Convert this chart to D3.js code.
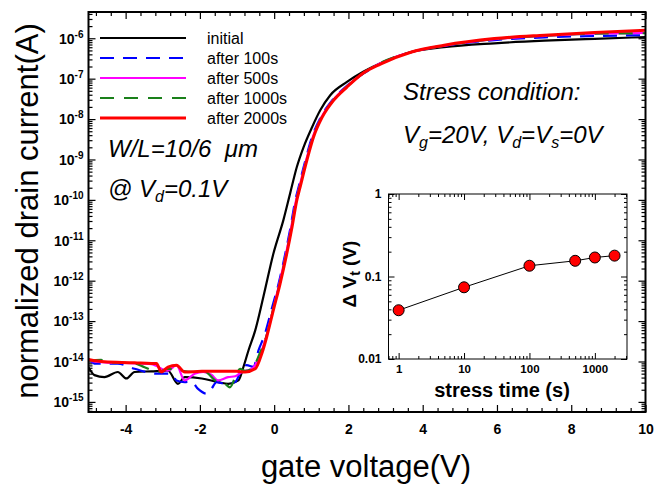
<!DOCTYPE html>
<html>
<head>
<meta charset="utf-8">
<script src="https://cdn.jsdelivr.net/npm/d3@7"></script>
<style>
  body { margin: 0; background: #fff; }
  svg { font-family: "Liberation Sans", Arial, sans-serif; }
</style>
</head>
<body>
<div id="chart"></div>
<script>
// gate voltage (V) / normalized drain current (A) for each stress step
const initialV = [-5, -4.84, -4.57, -4.21, -3.98, -3.76, -3.31, -2.86, -2.59, -2.41, -1.95, -1.51, -1.24, -0.96, -0.83, -0.69, -0.51, -0.29, -0.02, 0.25, 0.43, 0.61, 0.79, 1.02, 1.24, 1.51, 1.96, 2.41, 2.86, 3.68, 4.57, 5.93, 7.28, 8.63, 10];
const initialI = [7.2e-15, 4.6e-15, 4.1e-15, 5.5e-15, 3.8e-15, 5.5e-15, 5.7e-15, 5.9e-15, 2.8e-15, 4.1e-15, 3.8e-15, 3.1e-15, 2.8e-15, 3.4e-15, 7.2e-15, 1.9e-14, 5.9e-14, 4.0e-13, 4.7e-12, 3.2e-11, 1.45e-10, 6.5e-10, 2.0e-9, 6.3e-9, 1.65e-8, 3.9e-8, 8.3e-8, 1.5e-7, 2.4e-7, 4.5e-7, 6.0e-7, 7.5e-7, 8.7e-7, 9.7e-7, 1.07e-6];

const s100V = [-5, -4.84, -4.21, -3.76, -3.17, -2.76, -2.63, -2.41, -2.23, -2.05, -1.82, -1.69, -1.55, -1.32, -1.05, -0.87, -0.74, -0.56, -0.42, -0.26, -0.06, 0.12, 0.3, 0.44, 0.57, 0.66, 0.84, 1.02, 1.25, 1.56, 1.92, 2.41, 2.86, 3.68, 4.58, 5.93, 7.28, 8.63, 10];
const s100I = [1.17e-14, 8.9e-15, 8.9e-15, 6.6e-15, 5.0e-15, 5.0e-15, 3.4e-15, 3.1e-15, 3.2e-15, 2.1e-15, 1.6e-15, 2.1e-15, 3.1e-15, 2.8e-15, 3.1e-15, 6.6e-15, 8.1e-15, 7.4e-15, 1.9e-14, 4.5e-14, 2.1e-13, 8.5e-13, 4.7e-12, 2.1e-11, 9.8e-11, 2.1e-10, 9.5e-10, 3.6e-9, 1.1e-8, 2.9e-8, 6.2e-8, 1.35e-7, 2.35e-7, 4.5e-7, 6.5e-7, 9.0e-7, 1.05e-6, 1.14e-6, 1.19e-6];

const s500V = [-5, -4.57, -3.76, -3.31, -2.86, -2.63, -2.41, -2.14, -1.91, -1.69, -1.51, -1.24, -1.05, -0.87, -0.6, -0.38, -0.22, -0.03, 0.14, 0.32, 0.46, 0.59, 0.68, 0.86, 1.04, 1.27, 1.58, 1.94, 2.41, 2.86, 3.68, 4.58, 5.93, 7.28, 8.63, 10];
const s500I = [1.05e-14, 9.5e-15, 9.0e-15, 8.6e-15, 5.9e-15, 8.1e-15, 3.4e-15, 5.0e-15, 5.5e-15, 4.7e-15, 3.4e-15, 4.1e-15, 4.3e-15, 5.5e-15, 6.6e-15, 1.45e-14, 3.9e-14, 1.9e-13, 8.5e-13, 4.7e-12, 2.1e-11, 9.8e-11, 2.1e-10, 9.5e-10, 3.6e-9, 1.1e-8, 2.9e-8, 6.2e-8, 1.38e-7, 2.4e-7, 4.55e-7, 6.6e-7, 9.5e-7, 1.15e-6, 1.3e-6, 1.35e-6];

const s1000V = [-5, -4.66, -4.57, -3.76, -3.49, -3.13, -2.86, -2.5, -2.14, -1.86, -1.59, -1.32, -1.19, -1.01, -0.92, -0.78, -0.6, -0.4, -0.22, -0.03, 0.15, 0.33, 0.47, 0.6, 0.69, 0.87, 1.05, 1.28, 1.59, 1.95, 2.41, 2.86, 3.68, 4.58, 5.93, 7.28, 8.63, 10];
const s1000I = [1.05e-14, 1.1e-14, 9.8e-15, 8.9e-15, 7.2e-15, 5.5e-15, 6.6e-15, 5.9e-15, 5.5e-15, 5.5e-15, 3.4e-15, 2.8e-15, 2.3e-15, 5.0e-15, 6.6e-15, 5.9e-15, 6.6e-15, 1.5e-14, 3.9e-14, 1.9e-13, 8.5e-13, 4.7e-12, 2.1e-11, 9.8e-11, 2.1e-10, 9.5e-10, 3.6e-9, 1.1e-8, 2.9e-8, 6.2e-8, 1.38e-7, 2.45e-7, 4.55e-7, 6.6e-7, 9.6e-7, 1.16e-6, 1.3e-6, 1.33e-6];

const s2000V = [-5, -4.57, -3.76, -3.31, -3.17, -3.04, -2.86, -2.63, -2.41, -1.95, -1.51, -1.01, -0.78, -0.51, -0.33, -0.2, -0.02, 0.16, 0.34, 0.48, 0.61, 0.7, 0.88, 1.06, 1.29, 1.6, 1.96, 2.41, 2.86, 3.68, 4.58, 5.93, 7.28, 8.63, 10];
const s2000I = [1.12e-14, 9.8e-15, 9.3e-15, 8.9e-15, 8.9e-15, 5.5e-15, 7.3e-15, 8.1e-15, 5.5e-15, 5.7e-15, 5.7e-15, 5.7e-15, 5.5e-15, 6.6e-15, 1.6e-14, 4.1e-14, 1.9e-13, 8.5e-13, 4.7e-12, 2.1e-11, 9.8e-11, 2.1e-10, 9.5e-10, 3.6e-9, 1.1e-8, 2.9e-8, 6.2e-8, 1.4e-7, 2.3e-7, 4.5e-7, 6.7e-7, 9.8e-7, 1.19e-6, 1.38e-6, 1.58e-6];

const seriesNames = ["initial", "after 100s", "after 500s", "after 1000s", "after 2000s"];

// inset: threshold shift vs stress time
const stressTime = [1, 10, 100, 500, 1000, 2000];
const deltaVt = [0.039, 0.074, 0.135, 0.155, 0.17, 0.179];

// tick values
const xTickVals = [-4, -2, 0, 2, 4, 6, 8, 10];
const yExponents = [-15, -14, -13, -12, -11, -10, -9, -8, -7, -6];
const insetXTicks = [1, 10, 100, 1000];
const insetYTicks = [0.01, 0.1, 1];

const series = [
  { name: seriesNames[0], v: initialV, i: initialI, color: "#000000", width: 2.2, dash: null },
  { name: seriesNames[1], v: s100V, i: s100I, color: "#0000ff", width: 2.2, dash: "14,9" },
  { name: seriesNames[2], v: s500V, i: s500I, color: "#ff00ff", width: 2.2, dash: null },
  { name: seriesNames[3], v: s1000V, i: s1000I, color: "#1a801a", width: 2.2, dash: "14,10" },
  { name: seriesNames[4], v: s2000V, i: s2000I, color: "#ff0000", width: 3, dash: null }
];

const width = 655, height = 484;
const svg = d3.select("#chart").append("svg")
  .attr("width", width)
  .attr("height", height);

// main scales
const x = d3.scaleLinear().domain([-5, 10]).range([88.5, 645.5]);
const y = d3.scaleLog().domain([Math.pow(10, -15.25), Math.pow(10, -5.35)]).range([412, 12]);

const xMinor = d3.range(-4.8, 10, 0.4).map(v => +v.toFixed(1)).filter(v => !xTickVals.includes(v) && Math.abs(v % 2) > 0.01);
const yMinor = [];
for (let e = -16; e <= -6; e++) {
  for (let m = 2; m <= 9; m++) {
    const v = m * Math.pow(10, e);
    if (v > y.domain()[0] && v < y.domain()[1]) yMinor.push(v);
  }
}
const yMajor = yExponents.map(e => Math.pow(10, e));

function styleAxis(g) {
  g.select(".domain").remove();
  g.selectAll(".tick line").attr("stroke", "#000").attr("stroke-width", 1.2);
}

// minor ticks
svg.append("g").attr("transform", "translate(0,412)")
  .call(d3.axisBottom(x).tickValues(xMinor).tickSize(-4).tickFormat(""))
  .call(styleAxis);
svg.append("g").attr("transform", "translate(0,12)")
  .call(d3.axisTop(x).tickValues(xMinor).tickSize(-4).tickFormat(""))
  .call(styleAxis);
svg.append("g").attr("transform", "translate(88.5,0)")
  .call(d3.axisLeft(y).tickValues(yMinor).tickSize(-4).tickFormat(""))
  .call(styleAxis);
svg.append("g").attr("transform", "translate(645.5,0)")
  .call(d3.axisRight(y).tickValues(yMinor).tickSize(-4).tickFormat(""))
  .call(styleAxis);

// major ticks
svg.append("g").attr("transform", "translate(0,412)")
  .call(d3.axisBottom(x).tickValues(xTickVals).tickSizeInner(-7).tickSizeOuter(0).tickPadding(12).tickFormat(d => String(d)))
  .call(styleAxis)
  .selectAll("text")
  .style("font-size", "14px")
  .style("font-weight", "bold")
  .attr("fill", "#000");
svg.append("g").attr("transform", "translate(0,12)")
  .call(d3.axisTop(x).tickValues(xTickVals).tickSize(-7).tickFormat(""))
  .call(styleAxis);

const yAxisG = svg.append("g").attr("transform", "translate(88.5,0)")
  .call(d3.axisLeft(y).tickValues(yMajor).tickSizeInner(-7).tickSizeOuter(0).tickPadding(5).tickFormat(""))
  .call(styleAxis);
yAxisG.selectAll(".tick text")
  .attr("dy", "0.35em")
  .style("font-size", "14px")
  .style("font-weight", "bold")
  .attr("fill", "#000")
  .each(function(d) {
    const t = d3.select(this);
    t.append("tspan").text("10");
    t.append("tspan").attr("dy", -6).style("font-size", "10px").text(String(Math.round(Math.log10(d))));
  });
svg.append("g").attr("transform", "translate(645.5,0)")
  .call(d3.axisRight(y).tickValues(yMajor).tickSize(-7).tickFormat(""))
  .call(styleAxis);

// clip + curves
svg.append("clipPath").attr("id", "plot-clip")
  .append("rect").attr("x", 88.5).attr("y", 12).attr("width", 557).attr("height", 400);

const line = d3.line()
  .x(d => x(d[0]))
  .y(d => y(d[1]))
  .curve(d3.curveMonotoneX);

const curves = svg.append("g").attr("clip-path", "url(#plot-clip)");
series.forEach(s => {
  curves.append("path")
    .datum(s.v.map((v, k) => [v, s.i[k]]))
    .attr("fill", "none")
    .attr("stroke", s.color)
    .attr("stroke-width", s.width)
    .attr("stroke-dasharray", s.dash)
    .attr("stroke-linejoin", "round")
    .attr("d", line);
});

// frame
svg.append("rect")
  .attr("x", 88.5).attr("y", 12)
  .attr("width", 557).attr("height", 400)
  .attr("fill", "none")
  .attr("stroke", "#000")
  .attr("stroke-width", 2);

// legend
const legend = svg.append("g");
series.forEach((s, k) => {
  const ly = 38 + k * 20;
  legend.append("line")
    .attr("x1", 100).attr("x2", 186)
    .attr("y1", ly).attr("y2", ly)
    .attr("stroke", s.color)
    .attr("stroke-width", s.width)
    .attr("stroke-dasharray", s.dash);
  legend.append("text")
    .attr("x", 207).attr("y", ly + 5.5)
    .style("font-size", "16px")
    .text(s.name);
});

// annotations
const note = (xp, yp) => svg.append("text")
  .attr("x", xp).attr("y", yp)
  .style("font-size", "24px")
  .style("font-style", "italic")
  .attr("xml:space", "preserve");

note(108, 157).text("W/L=10/6  \u03bcm");
const vd = note(108, 197);
vd.append("tspan").text("@ V");
vd.append("tspan").attr("dy", 5).style("font-size", "16px").text("d");
vd.append("tspan").attr("dy", -5).text("=0.1V");

note(403, 100).text("Stress condition:");
const vg = note(403, 143);
vg.append("tspan").text("V");
vg.append("tspan").attr("dy", 5).style("font-size", "16px").text("g");
vg.append("tspan").attr("dy", -5).text("=20V, V");
vg.append("tspan").attr("dy", 5).style("font-size", "16px").text("d");
vg.append("tspan").attr("dy", -5).text("=V");
vg.append("tspan").attr("dy", 5).style("font-size", "16px").text("s");
vg.append("tspan").attr("dy", -5).text("=0V");

// axis titles
svg.append("text")
  .attr("x", 366).attr("y", 477)
  .attr("text-anchor", "middle")
  .style("font-size", "31px")
  .text("gate voltage(V)");

svg.append("text")
  .attr("transform", "translate(38,211) rotate(-90)")
  .attr("text-anchor", "middle")
  .style("font-size", "31px")
  .text("normalized drain current(A)");

// ---- inset ----
const ix = d3.scaleLog().domain([0.7, 3100]).range([388.5, 627]);
const iy = d3.scaleLog().domain([0.01, 1]).range([359, 194]);

const ixMinor = [], iyMinor = [];
for (let e = -1; e <= 3; e++) {
  for (let m = 2; m <= 9; m++) {
    const v = m * Math.pow(10, e);
    if (v >= 0.7 && v < 3100) ixMinor.push(v);
  }
}
for (let e = -2; e <= -1; e++) {
  for (let m = 2; m <= 9; m++) iyMinor.push(m * Math.pow(10, e));
}

svg.append("rect")
  .attr("x", 388.5).attr("y", 194)
  .attr("width", 238.5).attr("height", 165)
  .attr("fill", "#fff");

function thinAxis(g) {
  g.select(".domain").remove();
  g.selectAll(".tick line").attr("stroke", "#000").attr("stroke-width", 1);
}

svg.append("g").attr("transform", "translate(0,359)")
  .call(d3.axisBottom(ix).tickValues(ixMinor).tickSize(-3).tickFormat("")).call(thinAxis);
svg.append("g").attr("transform", "translate(0,194)")
  .call(d3.axisTop(ix).tickValues(ixMinor).tickSize(-3).tickFormat("")).call(thinAxis);
svg.append("g").attr("transform", "translate(388.5,0)")
  .call(d3.axisLeft(iy).tickValues(iyMinor).tickSize(-3).tickFormat("")).call(thinAxis);
svg.append("g").attr("transform", "translate(627,0)")
  .call(d3.axisRight(iy).tickValues(iyMinor).tickSize(-3).tickFormat("")).call(thinAxis);

svg.append("g").attr("transform", "translate(0,359)")
  .call(d3.axisBottom(ix).tickValues(insetXTicks).tickSizeInner(-6).tickSizeOuter(0).tickPadding(6).tickFormat(d => String(d)))
  .call(thinAxis)
  .selectAll("text")
  .style("font-size", "11.5px").style("font-weight", "bold").attr("fill", "#000");
svg.append("g").attr("transform", "translate(0,194)")
  .call(d3.axisTop(ix).tickValues(insetXTicks).tickSize(-6).tickFormat("")).call(thinAxis);
svg.append("g").attr("transform", "translate(388.5,0)")
  .call(d3.axisLeft(iy).tickValues(insetYTicks).tickSizeInner(-6).tickSizeOuter(0).tickPadding(7).tickFormat(d => String(d)))
  .call(thinAxis)
  .selectAll("text")
  .style("font-size", "12px").style("font-weight", "bold").attr("fill", "#000");
svg.append("g").attr("transform", "translate(627,0)")
  .call(d3.axisRight(iy).tickValues(insetYTicks).tickSize(-6).tickFormat("")).call(thinAxis);

svg.append("rect")
  .attr("x", 388.5).attr("y", 194)
  .attr("width", 238.5).attr("height", 165)
  .attr("fill", "none")
  .attr("stroke", "#000")
  .attr("stroke-width", 1);

const insetData = stressTime.map((t, k) => ({ t: t, dv: deltaVt[k] }));

svg.append("path")
  .datum(insetData)
  .attr("fill", "none")
  .attr("stroke", "#000")
  .attr("stroke-width", 1)
  .attr("d", d3.line().x(d => ix(d.t)).y(d => iy(d.dv)));

svg.selectAll(".dot")
  .data(insetData)
  .join("circle")
  .attr("class", "dot")
  .attr("cx", d => ix(d.t))
  .attr("cy", d => iy(d.dv))
  .attr("r", 5.5)
  .attr("fill", "#ff0000")
  .attr("stroke", "#000")
  .attr("stroke-width", 1);

svg.append("text")
  .attr("x", 502).attr("y", 397)
  .attr("text-anchor", "middle")
  .style("font-size", "20px")
  .style("font-weight", "bold")
  .text("stress time (s)");

const dvt = svg.append("text")
  .attr("transform", "translate(356,274) rotate(-90)")
  .attr("text-anchor", "middle")
  .style("font-size", "19px")
  .style("font-weight", "bold")
  .attr("xml:space", "preserve");
dvt.append("tspan").text("\u0394 V");
dvt.append("tspan").attr("dy", 4).style("font-size", "14px").text("t");
dvt.append("tspan").attr("dy", -4).text(" (V)");
</script>
</body>
</html>
